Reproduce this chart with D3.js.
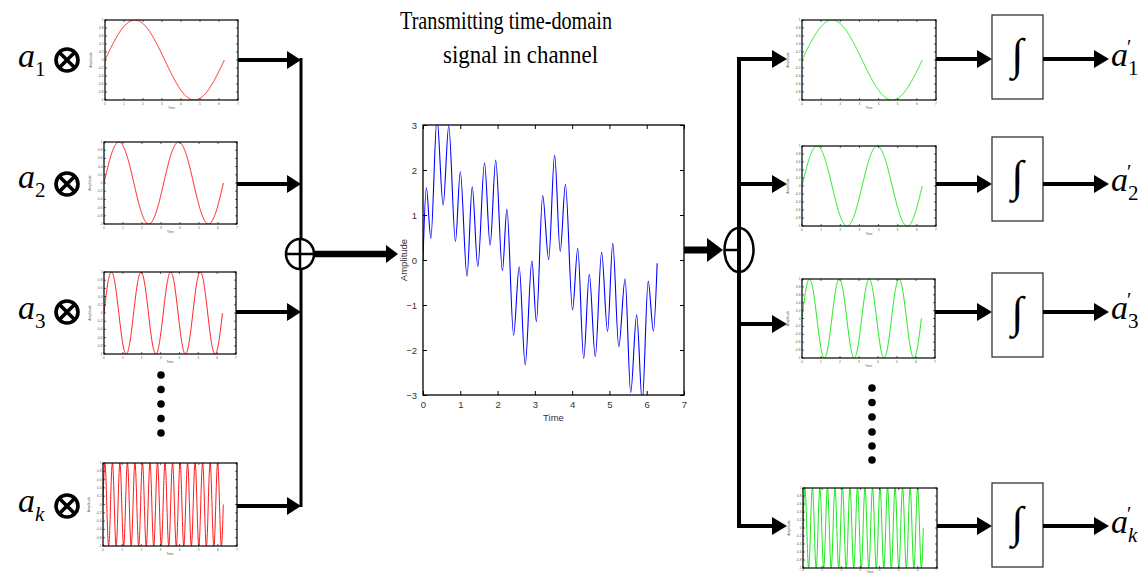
<!DOCTYPE html>
<html>
<head>
<meta charset="utf-8">
<script src="https://cdn.jsdelivr.net/npm/d3@7"></script>
<style>
	body { margin: 0; background: #fff; }
	svg { display: block; }
</style>
</head>
<body>
<svg id="diagram" width="1144" height="574"></svg>
<script>
////
// data
var carrierNames = ["1", "2", "3", "k"];
var carrierCycles = [1, 2, 4, 16];          // cycles over 0..2pi in each small plot
var smallTicksX = [0, 1, 2, 3, 4, 5, 6, 7];
var smallTicksY = [-1, -0.8, -0.6, -0.4, -0.2, 0, 0.2, 0.4, 0.6, 0.8, 1];

// channel signal: turning points
var signalTime = [0, 0.09, 0.21, 0.375, 0.54, 0.69, 0.87, 1.0, 1.18, 1.32, 1.47, 1.65, 1.80, 1.95, 2.13, 2.25,
	2.43, 2.58, 2.74, 2.92, 3.04, 3.21, 3.37, 3.53, 3.68, 3.82, 4.01, 4.15, 4.31, 4.46, 4.62, 4.79,
	4.95, 5.09, 5.25, 5.42, 5.57, 5.73, 5.88, 6.04, 6.18, 6.28];
var signalAmp = [0, 1.61, 0.48, 3.15, 1.22, 2.98, 0.41, 1.96, -0.36, 1.63, -0.15, 2.16, 0.33, 2.22, -0.24, 1.13,
	-1.67, -0.15, -2.33, -0.02, -1.37, 1.43, 0.01, 2.33, 0.19, 1.68, -1.11, 0.26, -2.19, -0.32, -2.15, 0.17,
	-1.59, 0.37, -1.93, -0.42, -2.95, -1.22, -3.15, -0.47, -1.58, -0.07];
var mainTicksX = [0, 1, 2, 3, 4, 5, 6, 7];
var mainTicksY = [-3, -2, -1, 0, 1, 2, 3];
var titleLines = ["Transmitting time-domain", "signal in channel"];

////
var Layout = {
	leftPanels: [
		{x: 105, y: 20, w: 133, h: 80},
		{x: 104, y: 142, w: 133, h: 82},
		{x: 104, y: 272, w: 132, h: 82},
		{x: 103, y: 463, w: 134, h: 83}
	],
	leftArrowY: [60, 184, 312, 506],
	leftLabelY: [67, 188, 319, 512],
	leftBusX: 301,
	rightPanels: [
		{x: 802, y: 20, w: 134, h: 80},
		{x: 802, y: 146, w: 134, h: 80},
		{x: 802, y: 279, w: 133, h: 79},
		{x: 803, y: 488, w: 134, h: 80}
	],
	rightInY: [59, 184, 324, 526],
	rightOutY: [59, 184, 312, 526],
	rightBusX: 739,
	boxes: [{y: 15, h: 84}, {y: 137, h: 84}, {y: 273, h: 84}, {y: 483, h: 84}],
	boxX: 992, boxW: 51,
	main: {x: 423, y: 125, w: 261, h: 270}
};

var Colors = {
	tx: "#ff0000",
	rx: "#00e600",
	signal: "#0000ff",
	ink: "#000",
	tick: "#333"
};

var svg = d3.select("#diagram");
svg.append("rect").attr("width", 1144).attr("height", 574).attr("fill", "#fff");

////
function arrow(x1, x2, y, shaft, headLen, headHalf) {
	svg.append("line")
		.attr("x1", x1).attr("x2", x2 - headLen + 1)
		.attr("y1", y).attr("y2", y)
		.attr("stroke", Colors.ink).attr("stroke-width", shaft);
	svg.append("polygon")
		.attr("points", [[x2 - headLen, y - headHalf], [x2, y], [x2 - headLen, y + headHalf]].join(" "))
		.attr("fill", Colors.ink);
}

var clipCount = 0;
function smallPlot(box, cycles, color) {
	var g = svg.append("g");
	var x = d3.scaleLinear().domain([0, 7]).range([box.x, box.x + box.w]);
	var y = d3.scaleLinear().domain([-1, 1]).range([box.y + box.h, box.y]);

	var id = "clip" + (clipCount++);
	g.append("clipPath").attr("id", id).append("rect")
		.attr("x", box.x).attr("y", box.y).attr("width", box.w).attr("height", box.h);

	var pts = d3.range(0, 2 * Math.PI, 0.01).concat([2 * Math.PI]);
	g.append("path")
		.datum(pts)
		.attr("clip-path", "url(#" + id + ")")
		.attr("fill", "none").attr("stroke", color).attr("stroke-width", 0.9)
		.attr("d", d3.line().x(function(t){ return x(t); }).y(function(t){ return y(Math.sin(cycles * t)); }));

	// ticks all round, MATLAB style
	smallTicksY.forEach(function(v){
		g.append("line").attr("x1", box.x).attr("x2", box.x + 2).attr("y1", y(v)).attr("y2", y(v))
			.attr("stroke", "#000").attr("stroke-width", 0.6);
		g.append("line").attr("x1", box.x + box.w - 2).attr("x2", box.x + box.w).attr("y1", y(v)).attr("y2", y(v))
			.attr("stroke", "#000").attr("stroke-width", 0.6);
		g.append("text").attr("x", box.x - 1.5).attr("y", y(v) + 1).attr("text-anchor", "end")
			.attr("font-family", "Liberation Sans").attr("font-size", 3.2).attr("fill", "#555").text(v);
	});
	var bottomRoom = Math.min(box.y + box.h + 4.5, 571);
	smallTicksX.forEach(function(v){
		g.append("line").attr("x1", x(v)).attr("x2", x(v)).attr("y1", box.y + box.h).attr("y2", box.y + box.h - 2)
			.attr("stroke", "#000").attr("stroke-width", 0.6);
		g.append("line").attr("x1", x(v)).attr("x2", x(v)).attr("y1", box.y).attr("y2", box.y + 2)
			.attr("stroke", "#000").attr("stroke-width", 0.6);
		g.append("text").attr("x", x(v)).attr("y", bottomRoom).attr("text-anchor", "middle")
			.attr("font-family", "Liberation Sans").attr("font-size", 3.2).attr("fill", "#555").text(v);
	});
	g.append("text").attr("x", box.x + box.w / 2).attr("y", Math.min(box.y + box.h + 9, 573))
		.attr("text-anchor", "middle")
		.attr("font-family", "Liberation Sans").attr("font-size", 3.2).attr("fill", "#555").text("Time");
	g.append("text").attr("transform", "translate(" + (box.x - 13) + "," + (box.y + box.h / 2) + ") rotate(-90)")
		.attr("text-anchor", "middle")
		.attr("font-family", "Liberation Sans").attr("font-size", 3.5).attr("fill", "#555").text("Amplitude");

	g.append("rect").attr("x", box.x).attr("y", box.y).attr("width", box.w).attr("height", box.h)
		.attr("fill", "none").attr("stroke", "#000").attr("stroke-width", 1.2);
}

function dots(cx, ys) {
	ys.forEach(function(cy){
		svg.append("circle").attr("cx", cx).attr("cy", cy).attr("r", 3.8).attr("fill", Colors.ink);
	});
}

function mathLabel(x, y, sub, primed) {
	var t = svg.append("text").attr("x", x).attr("y", y)
		.attr("font-family", "Liberation Serif").attr("fill", Colors.ink);
	t.append("tspan").attr("font-style", "italic").attr("font-size", 34).text("a");
	t.append("tspan").attr("font-size", 21).attr("dy", 9)
		.attr("font-style", sub === "k" ? "italic" : "normal").text(sub);
	if (primed) {
		svg.append("text").attr("x", x + 16).attr("y", y - 12)
			.attr("font-family", "Liberation Serif").attr("font-size", 20).text("\u2032");
	}
}

function otimes(cx, cy) {
	var r = 11;
	svg.append("circle").attr("cx", cx).attr("cy", cy).attr("r", r)
		.attr("fill", "none").attr("stroke", Colors.ink).attr("stroke-width", 3.6);
	var d = r * Math.SQRT1_2;
	[[-1, -1, 1, 1], [-1, 1, 1, -1]].forEach(function(s){
		svg.append("line")
			.attr("x1", cx + s[0] * d).attr("y1", cy + s[1] * d)
			.attr("x2", cx + s[2] * d).attr("y2", cy + s[3] * d)
			.attr("stroke", Colors.ink).attr("stroke-width", 3.6);
	});
}

////
// transmitter side
Layout.leftPanels.forEach(function(box, i){
	smallPlot(box, carrierCycles[i], Colors.tx);
	mathLabel(18, Layout.leftLabelY[i], carrierNames[i], false);
	otimes(67, Layout.leftArrowY[i]);
	arrow(box.x + box.w, Layout.leftBusX, Layout.leftArrowY[i], 4, 14, 9);
});
svg.append("line").attr("x1", Layout.leftBusX).attr("x2", Layout.leftBusX)
	.attr("y1", 58).attr("y2", 507).attr("stroke", Colors.ink).attr("stroke-width", 3);
dots(161, [375, 389.5, 404, 418.5, 433]);

// summing node and thick arrow into the channel plot
svg.append("ellipse").attr("cx", 300).attr("cy", 254).attr("rx", 14).attr("ry", 15)
	.attr("fill", "#fff").attr("stroke", Colors.ink).attr("stroke-width", 2.5);
svg.append("line").attr("x1", 300).attr("x2", 300).attr("y1", 239).attr("y2", 269)
	.attr("stroke", Colors.ink).attr("stroke-width", 2.5);
svg.append("line").attr("x1", 286).attr("x2", 314).attr("y1", 254).attr("y2", 254)
	.attr("stroke", Colors.ink).attr("stroke-width", 2.5);
arrow(314, 398, 254, 6.5, 12, 9);

////
// title
titleLines.forEach(function(line, i){
	svg.append("text")
		.attr("x", i === 0 ? 400 : 443).attr("y", i === 0 ? 29 : 63)
		.attr("font-family", "Liberation Serif").attr("font-size", 26)
		.attr("textLength", i === 0 ? 212 : 155).attr("lengthAdjust", "spacingAndGlyphs")
		.text(line);
});

// channel plot
var M = Layout.main;
var mx = d3.scaleLinear().domain([0, 7]).range([M.x, M.x + M.w]);
var my = d3.scaleLinear().domain([-3, 3]).range([M.y + M.h, M.y]);
var mg = svg.append("g");
mg.append("clipPath").attr("id", "mainclip").append("rect")
	.attr("x", M.x).attr("y", M.y).attr("width", M.w).attr("height", M.h);
mg.append("path")
	.datum(d3.zip(signalTime, signalAmp))
	.attr("clip-path", "url(#mainclip)")
	.attr("fill", "none").attr("stroke", Colors.signal).attr("stroke-width", 1.1)
	.attr("d", d3.line().x(function(d){ return mx(d[0]); }).y(function(d){ return my(d[1]); }).curve(d3.curveMonotoneX));

var axFont = function(sel){
	sel.selectAll("text").attr("font-family", "Liberation Sans").attr("font-size", 9.5).attr("fill", Colors.tick);
	sel.selectAll("line").attr("stroke", "#000");
	sel.select(".domain").remove();
};
mg.append("g").attr("transform", "translate(0," + (M.y + M.h) + ")")
	.call(d3.axisBottom(mx).tickValues(mainTicksX).tickSize(-4).tickPadding(6).tickFormat(d3.format("d"))).call(axFont);
mg.append("g").attr("transform", "translate(0," + M.y + ")")
	.call(d3.axisTop(mx).tickValues(mainTicksX).tickSize(-4).tickFormat("")).call(axFont);
mg.append("g").attr("transform", "translate(" + M.x + ",0)")
	.call(d3.axisLeft(my).tickValues(mainTicksY).tickSize(-4).tickPadding(6).tickFormat(d3.format("d"))).call(axFont);
mg.append("g").attr("transform", "translate(" + (M.x + M.w) + ",0)")
	.call(d3.axisRight(my).tickValues(mainTicksY).tickSize(-4).tickFormat("")).call(axFont);
mg.append("rect").attr("x", M.x).attr("y", M.y).attr("width", M.w).attr("height", M.h)
	.attr("fill", "none").attr("stroke", "#000").attr("stroke-width", 1.3);
mg.append("text").attr("x", mx(3.5)).attr("y", M.y + M.h + 26).attr("text-anchor", "middle")
	.attr("font-family", "Liberation Sans").attr("font-size", 9.5).attr("fill", Colors.tick).text("Time");
mg.append("text").attr("transform", "translate(" + (M.x - 16) + "," + my(0) + ") rotate(-90)")
	.attr("text-anchor", "middle")
	.attr("font-family", "Liberation Sans").attr("font-size", 9.5).attr("fill", Colors.tick).text("Amplitude");

////
// receiver side
arrow(M.x + M.w, 723, 250, 7, 16, 12);
svg.append("line").attr("x1", Layout.rightBusX).attr("x2", Layout.rightBusX)
	.attr("y1", 57).attr("y2", 528).attr("stroke", Colors.ink).attr("stroke-width", 4);
svg.append("ellipse").attr("cx", Layout.rightBusX).attr("cy", 250).attr("rx", 14.5).attr("ry", 22)
	.attr("fill", "none").attr("stroke", Colors.ink).attr("stroke-width", 2.5);
svg.append("line").attr("x1", 724).attr("x2", Layout.rightBusX).attr("y1", 250).attr("y2", 250)
	.attr("stroke", Colors.ink).attr("stroke-width", 2.5);

Layout.rightPanels.forEach(function(box, i){
	var b = Layout.boxes[i];
	svg.append("line").attr("x1", Layout.rightBusX - 2).attr("x2", Layout.rightBusX + 2)
		.attr("y1", Layout.rightInY[i]).attr("y2", Layout.rightInY[i]).attr("stroke", Colors.ink).attr("stroke-width", 4);
	arrow(Layout.rightBusX, 787, Layout.rightInY[i], 4, 15, 9);
	smallPlot(box, carrierCycles[i], Colors.rx);
	arrow(box.x + box.w, Layout.boxX, Layout.rightOutY[i], 4, 15, 9);
	svg.append("rect").attr("x", Layout.boxX).attr("y", b.y).attr("width", Layout.boxW).attr("height", b.h)
		.attr("fill", "none").attr("stroke", "#333").attr("stroke-width", 1.3);
	svg.append("text").attr("x", Layout.boxX + Layout.boxW / 2).attr("y", b.y + b.h / 2 + 12)
		.attr("text-anchor", "middle").attr("font-family", "Liberation Serif").attr("font-size", 44)
		.attr("fill", Colors.ink).text("\u222B");
	arrow(Layout.boxX + Layout.boxW, 1109, Layout.rightOutY[i], 4, 15, 9);
	mathLabel(1111, Layout.rightOutY[i] + 7, carrierNames[i], true);
});
dots(872, [388, 402.5, 417, 432, 446, 460]);

console.log("diagram drawn");
</script>
</body>
</html>
